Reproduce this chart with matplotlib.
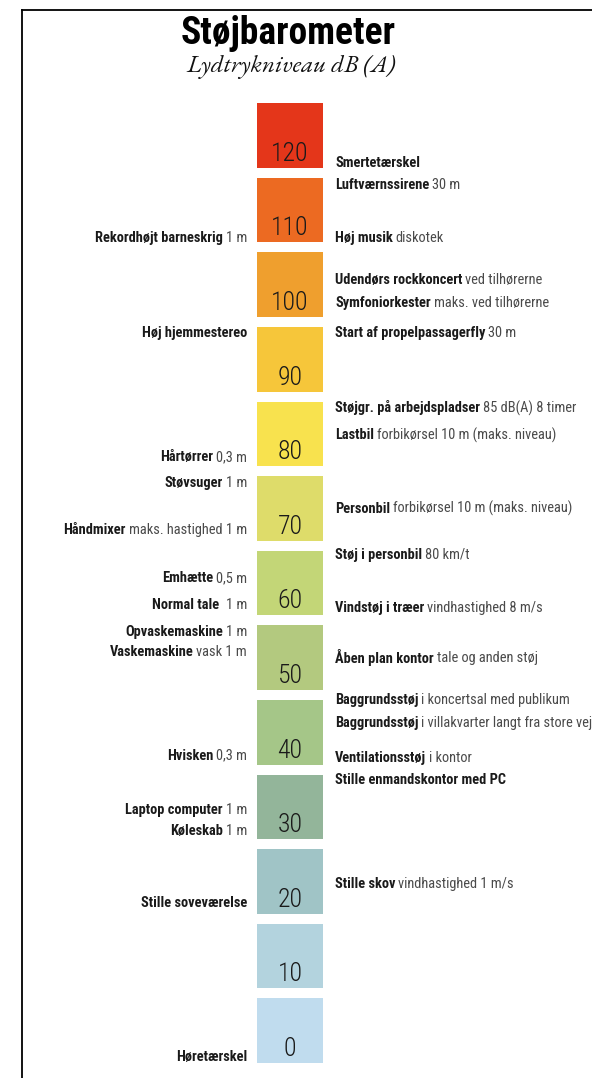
import matplotlib
matplotlib.use('Agg')
import matplotlib.pyplot as plt
from matplotlib.lines import Line2D

# dB levels shown as blocks
levels = [120, 110, 100, 90, 80, 70, 60, 50, 40, 30, 20, 10, 0]
block_colors = ['#E4361A', '#EC6A22', '#EF9F2E', '#F6C63A', '#F8E24E', '#DEDC6A',
                '#C3D677', '#B3C97F', '#A5C688', '#93B59A', '#A0C4C6', '#B3D3DE', '#C0DCEE']

# right-hand sources (bold part, plain part, dB position)
right_bold = ['Smertetærskel', 'Luftværnssirene', 'Høj musik', 'Udendørs rockkoncert',
              'Symfoniorkester', 'Start af propelpassagerfly', 'Støjgr. på arbejdspladser',
              'Lastbil', 'Personbil', 'Støj i personbil', 'Vindstøj i træer',
              'Åben plan kontor', 'Baggrundsstøj', 'Baggrundsstøj', 'Ventilationsstøj',
              'Stille enmandskontor med PC', 'Stille skov']
right_rest = ['', '30 m', 'diskotek', 'ved tilhørerne', 'maks. ved tilhørerne', '30 m',
              '85 dB(A) 8 timer', 'forbikørsel 10 m (maks. niveau)',
              'forbikørsel 10 m (maks. niveau)', '80 km/t', 'vindhastighed 8 m/s',
              'tale og anden støj', 'i koncertsal med publikum',
              'i villakvarter langt fra store veje', 'i kontor', '', 'vindhastighed 1 m/s']
right_db = [120.6, 117.7, 110.6, 105.0, 101.9, 97.9, 87.8, 84.2, 74.3, 68.1, 61.0,
            54.3, 48.7, 45.6, 40.9, 37.9, 24.0]

# left-hand sources
left_bold = ['Rekordhøjt barneskrig', 'Høj hjemmestereo', 'Hårtørrer', 'Støvsuger',
             'Håndmixer', 'Emhætte', 'Normal tale ', 'Opvaskemaskine', 'Vaskemaskine',
             'Hvisken', 'Laptop computer', 'Køleskab', 'Stille soveværelse', 'Høretærskel']
left_rest = ['1 m', '', '0,3 m', '1 m', 'maks. hastighed 1 m', '0,5 m', '1 m', '1 m',
             'vask 1 m', '0,3 m', '1 m', '1 m', '', '']
left_db = [110.6, 97.9, 81.2, 77.7, 71.4, 65.0, 61.4, 57.8, 55.1, 41.2, 33.9, 31.1,
           21.4, 0.8]

COND = ['Roboto Condensed', 'Archivo Narrow', 'Liberation Sans', 'DejaVu Sans']
SERIF = ['EB Garamond', 'Liberation Serif', 'DejaVu Serif']
DARK = '#1a1a1a'
GREY = '#4a4a4a'
FS = 10.4

fig = plt.figure(figsize=(5.92, 10.78), dpi=100)
ax = fig.add_axes([0, 0, 1, 1])
ax.set_xlim(0, 592)
ax.set_ylim(-2.01, 142.49)
ax.axis('off')

ax.bar(290, 8.65, bottom=levels, width=66, color=block_colors, align='center')
for v in levels:
    ax.text(290, v + 0.94, str(v), ha='center', va='baseline', fontsize=18.5,
            family=COND, weight='light', color=DARK)

fig.canvas.draw()
renderer = fig.canvas.get_renderer()
inv = ax.transData.inverted()

for b, r, y in zip(right_bold, right_rest, right_db):
    t = ax.text(335, y, b, ha='left', va='center', fontsize=FS, weight='bold',
                family=COND, color=DARK)
    if r:
        x1 = inv.transform((t.get_window_extent(renderer).x1, 0))[0]
        ax.text(x1 + 3, y, r, ha='left', va='center', fontsize=FS, family=COND, color=GREY)

for b, r, y in zip(left_bold, left_rest, left_db):
    xr = 247
    if r:
        t = ax.text(xr, y, r, ha='right', va='center', fontsize=FS, family=COND, color=GREY)
        xr = inv.transform((t.get_window_extent(renderer).x0, 0))[0] - 3
    ax.text(xr, y, b, ha='right', va='center', fontsize=FS, weight='bold',
            family=COND, color=DARK)

fig.text(288 / 592, 1 - 34 / 1078, 'Støjbarometer', ha='center', va='center',
         fontsize=27, weight='bold', family=COND, color='black')
fig.text(291 / 592, 1 - 67 / 1078, 'Lydtrykniveau dB (A)', ha='center', va='center',
         fontsize=18, style='italic', family=SERIF, color='#111')

# frame lines at top and left
fig.add_artist(Line2D([22 / 592, 22 / 592], [0, 1 - 10 / 1078], transform=fig.transFigure,
                      color='black', lw=1.3))
fig.add_artist(Line2D([22 / 592, 1], [1 - 10 / 1078, 1 - 10 / 1078], transform=fig.transFigure,
                      color='black', lw=1.3))

fig.savefig('out.png', dpi=100)
